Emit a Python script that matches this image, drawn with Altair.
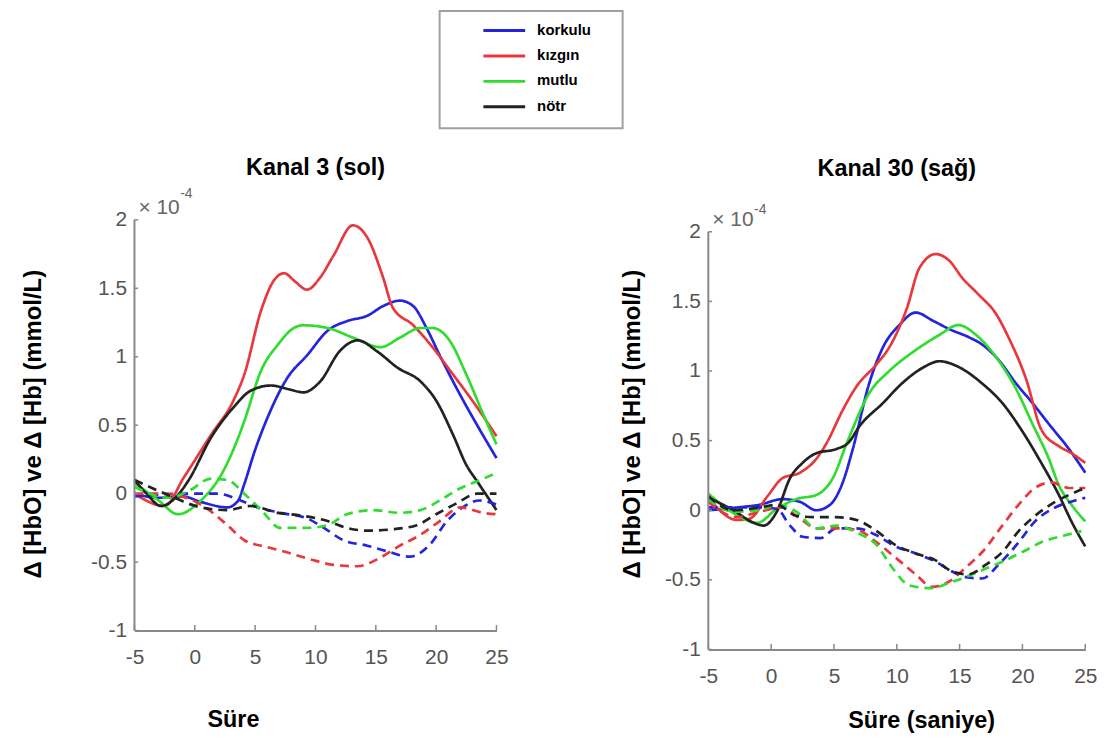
import altair as alt
import pandas as pd

CONDITIONS = ["korkulu", "kızgın", "mutlu", "nötr"]
COLORS = ["#2424dc", "#e8383d", "#30dc30", "#222222"]
X_TICKS = [-5, 0, 5, 10, 15, 20, 25]
Y_TICKS = [-1, -0.5, 0, 0.5, 1, 1.5, 2]

# ---- Kanal 3 (sol): (time s, value x1e-4 mmol/L)
L_KORKULU_HBO = [(-5, 0.0), (-3, -0.03), (-1, -0.02), (0.5, -0.06), (2.7, -0.1), (3.6, -0.05), (4.1, 0.07),
                 (5, 0.32), (6, 0.55), (7.7, 0.85), (9.3, 1.01), (11, 1.19), (12.6, 1.26), (14.3, 1.3),
                 (15.6, 1.37), (17, 1.41), (18.1, 1.37), (19.2, 1.21), (20.3, 1.01), (22, 0.72), (23.4, 0.5),
                 (25, 0.26)]
L_KIZGIN_HBO = [(-5, 0.0), (-2.5, -0.09), (-0.9, 0.12), (1.35, 0.43), (3.2, 0.68), (4.1, 0.87), (5.5, 1.34),
                (6.5, 1.55), (7.4, 1.61), (8.3, 1.55), (9.3, 1.49), (10.4, 1.58), (11.5, 1.74), (13.1, 1.96),
                (14.3, 1.87), (15.6, 1.58), (16.4, 1.36), (18.1, 1.23), (19.7, 1.07), (21.4, 0.87), (23, 0.68),
                (25, 0.42)]
L_MUTLU_HBO = [(-5, 0.08), (-3, -0.05), (-1.4, -0.15), (0.5, -0.05), (2.2, 0.14), (3.6, 0.41), (4.1, 0.53),
               (5.5, 0.9), (6.9, 1.09), (8.2, 1.21), (9, 1.23), (11, 1.21), (13.1, 1.14), (15.4, 1.07),
               (17, 1.14), (18.7, 1.21), (19.7, 1.21), (21.1, 1.12), (22.5, 0.87), (23.9, 0.58), (25, 0.36)]
L_NOTR_HBO = [(-5, 0.1), (-4, 0.0), (-2.8, -0.09), (-1.5, -0.02), (-0.5, 0.1), (1.35, 0.41), (3.2, 0.63),
              (4.6, 0.75), (6.3, 0.79), (7.9, 0.76), (9, 0.74), (10.4, 0.82), (12, 1.04), (13.5, 1.12),
              (15.1, 1.04), (16.8, 0.92), (18.7, 0.82), (20, 0.68), (21.4, 0.43), (22.5, 0.21), (23.4, 0.09),
              (25, -0.12)]
L_KORKULU_HB = [(-5, -0.02), (-0.9, 0.0), (1.9, 0.0), (3.8, -0.05), (5.2, -0.1), (7.1, -0.14), (9.3, -0.18),
                (10.7, -0.25), (12.3, -0.34), (14.3, -0.38), (15.9, -0.42), (17.8, -0.46), (19.5, -0.37),
                (20.9, -0.2), (22.2, -0.1), (23.6, -0.05), (25, -0.08)]
L_KIZGIN_HB = [(-5, 0.0), (-2.6, 0.0), (0.5, -0.08), (2.7, -0.23), (4.1, -0.34), (6, -0.39), (7.7, -0.43),
               (9.6, -0.48), (11.5, -0.52), (13.5, -0.53), (15.1, -0.48), (17, -0.38), (18.7, -0.3),
               (20.3, -0.2), (22, -0.1), (23.9, -0.14), (25, -0.15)]
L_MUTLU_HB = [(-5, 0.05), (-2.2, -0.03), (-0.5, 0.02), (1.35, 0.11), (2.7, 0.1), (4.1, 0.0), (5.5, -0.12),
              (7.1, -0.25), (9.3, -0.25), (11, -0.23), (12.6, -0.15), (14.8, -0.12), (17, -0.14),
              (18.7, -0.12), (20.3, -0.05), (22, 0.04), (23.4, 0.09), (24.7, 0.14)]
L_NOTR_HB = [(-5, 0.1), (-2.2, -0.01), (0.5, -0.1), (2.7, -0.12), (4.6, -0.09), (6.9, -0.14), (8.8, -0.16),
             (11, -0.2), (12.6, -0.25), (14.3, -0.27), (16.4, -0.26), (18.4, -0.23), (20, -0.15),
             (21.7, -0.07), (23.4, 0.0), (25, 0.0)]

# ---- Kanal 30 (sağ)
R_KORKULU_HBO = [(-5, 0.0), (-2.7, 0.02), (-0.9, 0.04), (0.9, 0.08), (2.3, 0.06), (3.6, 0.0), (4.7, 0.04),
                 (5.7, 0.2), (6.5, 0.44), (7.8, 0.91), (8.9, 1.17), (10.2, 1.33), (11.5, 1.42), (12.9, 1.36),
                 (14.2, 1.3), (15.8, 1.24), (16.8, 1.19), (18.1, 1.08), (19.5, 0.91), (20.8, 0.77),
                 (22.1, 0.62), (23.7, 0.44), (25, 0.27)]
R_KIZGIN_HBO = [(-5, 0.09), (-2.7, -0.07), (-1.7, -0.06), (-0.3, 0.1), (0.9, 0.23), (2.3, 0.27), (3.6, 0.37),
                (4.4, 0.48), (5.7, 0.72), (6.8, 0.89), (8.4, 1.05), (9.4, 1.17), (10.8, 1.45), (11.8, 1.74),
                (13.1, 1.84), (14.2, 1.79), (15.2, 1.67), (16.5, 1.55), (17.9, 1.41), (18.9, 1.24),
                (20.3, 0.94), (21.5, 0.58), (22.9, 0.46), (23.9, 0.41), (25, 0.34)]
R_MUTLU_HBO = [(-5, 0.12), (-3, -0.02), (-1.1, -0.09), (0.45, 0.01), (2, 0.08), (3.6, 0.11), (4.9, 0.23),
               (6.1, 0.5), (7.8, 0.84), (9.4, 1.0), (11.5, 1.15), (13.4, 1.26), (14.9, 1.33), (16.3, 1.26),
               (17.9, 1.1), (19.5, 0.87), (20.8, 0.62), (22.1, 0.37), (22.9, 0.18), (23.9, 0.04), (25, -0.08)]
R_NOTR_HBO = [(-5, 0.09), (-3, 0.0), (-1.4, -0.09), (-0.6, -0.11), (0.45, -0.01), (1.5, 0.23), (2.5, 0.34),
              (3.6, 0.41), (5.2, 0.44), (6.2, 0.49), (7, 0.6), (8.9, 0.77), (10.4, 0.91), (12, 1.02),
              (13.4, 1.07), (14.9, 1.03), (16.8, 0.91), (18.4, 0.77), (19.9, 0.58), (21.5, 0.34),
              (22.9, 0.11), (23.9, -0.08), (25, -0.26)]
R_KORKULU_HB = [(-5, 0.02), (-2.7, 0.02), (-0.9, 0.02), (0.45, 0.01), (1.5, -0.11), (2.5, -0.19), (3.9, -0.2),
                (5.2, -0.13), (6.8, -0.13), (8.4, -0.18), (9.9, -0.26), (11.5, -0.31), (13.1, -0.37),
                (14.2, -0.43), (15.5, -0.48), (16.8, -0.49), (18.1, -0.39), (19.7, -0.23), (21, -0.08),
                (22.6, 0.02), (24.2, 0.07), (25, 0.09)]
R_KIZGIN_HB = [(-5, 0.06), (-2.7, -0.05), (-0.9, -0.01), (0.9, 0.02), (2.3, -0.06), (3.6, -0.13), (5.2, -0.13),
               (6.8, -0.14), (8.4, -0.23), (9.9, -0.34), (11.5, -0.46), (12.8, -0.55), (14.2, -0.51),
               (15.5, -0.41), (16.8, -0.3), (18.4, -0.11), (19.7, 0.04), (21, 0.16), (22.3, 0.2),
               (23.7, 0.16), (25, 0.16)]
R_MUTLU_HB = [(-5, 0.08), (-3, -0.01), (-0.9, 0.0), (0.45, 0.04), (2, -0.01), (3.6, -0.13), (5.2, -0.11),
              (6.8, -0.16), (8.4, -0.25), (9.7, -0.42), (11, -0.54), (12.8, -0.56), (14.2, -0.52),
              (15.5, -0.48), (16.8, -0.43), (18.4, -0.37), (20, -0.3), (21.5, -0.23), (23.4, -0.18),
              (24.7, -0.15)]
R_NOTR_HB = [(-5, 0.1), (-3, 0.0), (-0.9, 0.02), (0.45, 0.04), (2, -0.04), (3.6, -0.05), (5.2, -0.05),
             (6.8, -0.07), (8.4, -0.15), (9.9, -0.25), (11.5, -0.31), (13.1, -0.36), (14.4, -0.44),
             (15.7, -0.46), (17.1, -0.39), (18.4, -0.3), (19.7, -0.15), (21, -0.04), (22.6, 0.06),
             (24.2, 0.13), (25, 0.16)]

SERIES = {
    ("L", "korkulu", "HbO"): L_KORKULU_HBO, ("L", "kızgın", "HbO"): L_KIZGIN_HBO,
    ("L", "mutlu", "HbO"): L_MUTLU_HBO, ("L", "nötr", "HbO"): L_NOTR_HBO,
    ("L", "korkulu", "Hb"): L_KORKULU_HB, ("L", "kızgın", "Hb"): L_KIZGIN_HB,
    ("L", "mutlu", "Hb"): L_MUTLU_HB, ("L", "nötr", "Hb"): L_NOTR_HB,
    ("R", "korkulu", "HbO"): R_KORKULU_HBO, ("R", "kızgın", "HbO"): R_KIZGIN_HBO,
    ("R", "mutlu", "HbO"): R_MUTLU_HBO, ("R", "nötr", "HbO"): R_NOTR_HBO,
    ("R", "korkulu", "Hb"): R_KORKULU_HB, ("R", "kızgın", "Hb"): R_KIZGIN_HB,
    ("R", "mutlu", "Hb"): R_MUTLU_HB, ("R", "nötr", "Hb"): R_NOTR_HB,
}

rows = []
for (panel, cond, kind), pts in SERIES.items():
    for t, v in pts:
        rows.append({"panel": panel, "cond": cond, "kind": kind, "t": t, "v": v})
df = pd.DataFrame(rows)

FONT = "Liberation Sans"
color_scale = alt.Scale(domain=CONDITIONS, range=COLORS)
x_scale = alt.Scale(domain=[-5, 25], nice=False, zero=False)
YTITLE = "Δ [HbO] ve Δ [Hb] (mmol/L)"


def panel(pid, title, xtitle, w, h, ytop, title_offset, ytx, yty, xtx, xty, sup_dy, mul_dy):
    y_scale = alt.Scale(domain=[-1, ytop], nice=False, zero=False)
    lines = alt.Chart(df[df.panel == pid]).mark_line(strokeWidth=2.7, interpolate="monotone").encode(
        x=alt.X("t:Q", scale=x_scale, axis=alt.Axis(
            values=X_TICKS, title=xtitle, labelExpr="'' + datum.value", titleX=xtx, titleY=xty,
            titleAlign="center", titleBaseline="middle", labelPadding=16, labelFlush=False,
            titleFontSize=23.5)),
        y=alt.Y("v:Q", scale=y_scale, axis=alt.Axis(
            values=Y_TICKS, title=YTITLE, labelExpr="'' + datum.value", titleX=ytx, titleY=yty,
            titleAlign="center", titleBaseline="middle", labelPadding=8, domain=False,
            labelFlush=False, titleFontSize=24)),
        color=alt.Color("cond:N", scale=color_scale, legend=None),
        strokeDash=alt.StrokeDash("kind:N", scale=alt.Scale(domain=["HbO", "Hb"], range=[[1, 0], [9, 6]]),
                                  legend=None),
    )
    xt = pd.DataFrame({"t": X_TICKS, "v": [-1] * len(X_TICKS), "v1": [-0.96] * len(X_TICKS)})
    yt = pd.DataFrame({"v": Y_TICKS, "t": [-5] * len(Y_TICKS), "t1": [-4.7] * len(Y_TICKS)})
    ax = pd.DataFrame({"t": [-5], "v": [-1], "v1": [2]})
    xticks = alt.Chart(xt).mark_rule(color="#888", strokeWidth=1.5).encode(
        x=alt.X("t:Q", scale=x_scale), y=alt.Y("v:Q", scale=y_scale), y2="v1:Q")
    yticks = alt.Chart(yt).mark_rule(color="#888", strokeWidth=1.5).encode(
        y=alt.Y("v:Q", scale=y_scale), x=alt.X("t:Q", scale=x_scale), x2="t1:Q")
    yaxis_line = alt.Chart(ax).mark_rule(color="#888", strokeWidth=2).encode(
        x=alt.X("t:Q", scale=x_scale), y=alt.Y("v:Q", scale=y_scale), y2="v1:Q")
    corner = pd.DataFrame({"t": [-5], "v": [2]})
    base_c = alt.Chart(corner).encode(x=alt.X("t:Q", scale=x_scale), y=alt.Y("v:Q", scale=y_scale))
    mult = base_c.mark_text(text="× 10", align="left", baseline="middle", fontSize=21, font=FONT,
                            color="#666", dx=4, dy=mul_dy)
    expo = base_c.mark_text(text="-4", align="left", baseline="middle", fontSize=14, font=FONT,
                            color="#666", dx=46, dy=sup_dy)
    return alt.layer(lines, yaxis_line, xticks, yticks, mult, expo).properties(
        width=w, height=h,
        title=alt.TitleParams(title, fontSize=23.5, font=FONT, fontWeight="bold", color="black",
                              anchor="middle", frame="group", offset=title_offset),
    )


left = panel("L", "Kanal 3 (sol)", "Süre", 364, 413, 2.0, 8, -101, 205, 99, 89, -26, -12)
right = panel("R", "Kanal 30 (sağ)", "Süre (saniye)", 379, 432, 2.0 + 12 / 140, 23, -76, 205, 214, 71, -22, -12)

leg_df = pd.DataFrame({"cond": CONDITIONS})
leg_base = alt.Chart(leg_df).encode(
    y=alt.Y("cond:N", sort=CONDITIONS, scale=alt.Scale(type="point", padding=0.77), axis=None))
leg_box = alt.Chart(pd.DataFrame({"box": [0]})).mark_rect(
    filled=False, stroke="#a0a0a0", strokeWidth=2).encode(
    x=alt.value(0), x2=alt.value(184), y=alt.value(0), y2=alt.value(118))
leg_rules = leg_base.mark_rule(strokeWidth=3).encode(
    x=alt.value(44), x2=alt.value(86), color=alt.Color("cond:N", scale=color_scale, legend=None))
leg_text = leg_base.mark_text(align="left", baseline="middle", font=FONT,
                              fontSize=15, fontWeight="bold", color="black", dy=-1).encode(
    x=alt.value(98), text="cond:N")
legend_chart = alt.layer(leg_box, leg_rules, leg_text).properties(width=354, height=116)

chart = alt.vconcat(
    legend_chart,
    alt.hconcat(left, right, spacing=113).resolve_scale(x="independent", y="independent"),
    spacing=26, center=True,
).properties(
    padding={"left": 14, "top": 0, "right": 5, "bottom": 5}
).configure_view(stroke=None).configure_axis(
    grid=False, domainColor="#888", domainWidth=2, ticks=False,
    labelColor="#555", labelFontSize=21, labelFont=FONT,
    titleFont=FONT, titleFontWeight="bold", titleColor="black",
)

chart.save("out.html", embed_options={"renderer": "svg", "actions": False})
